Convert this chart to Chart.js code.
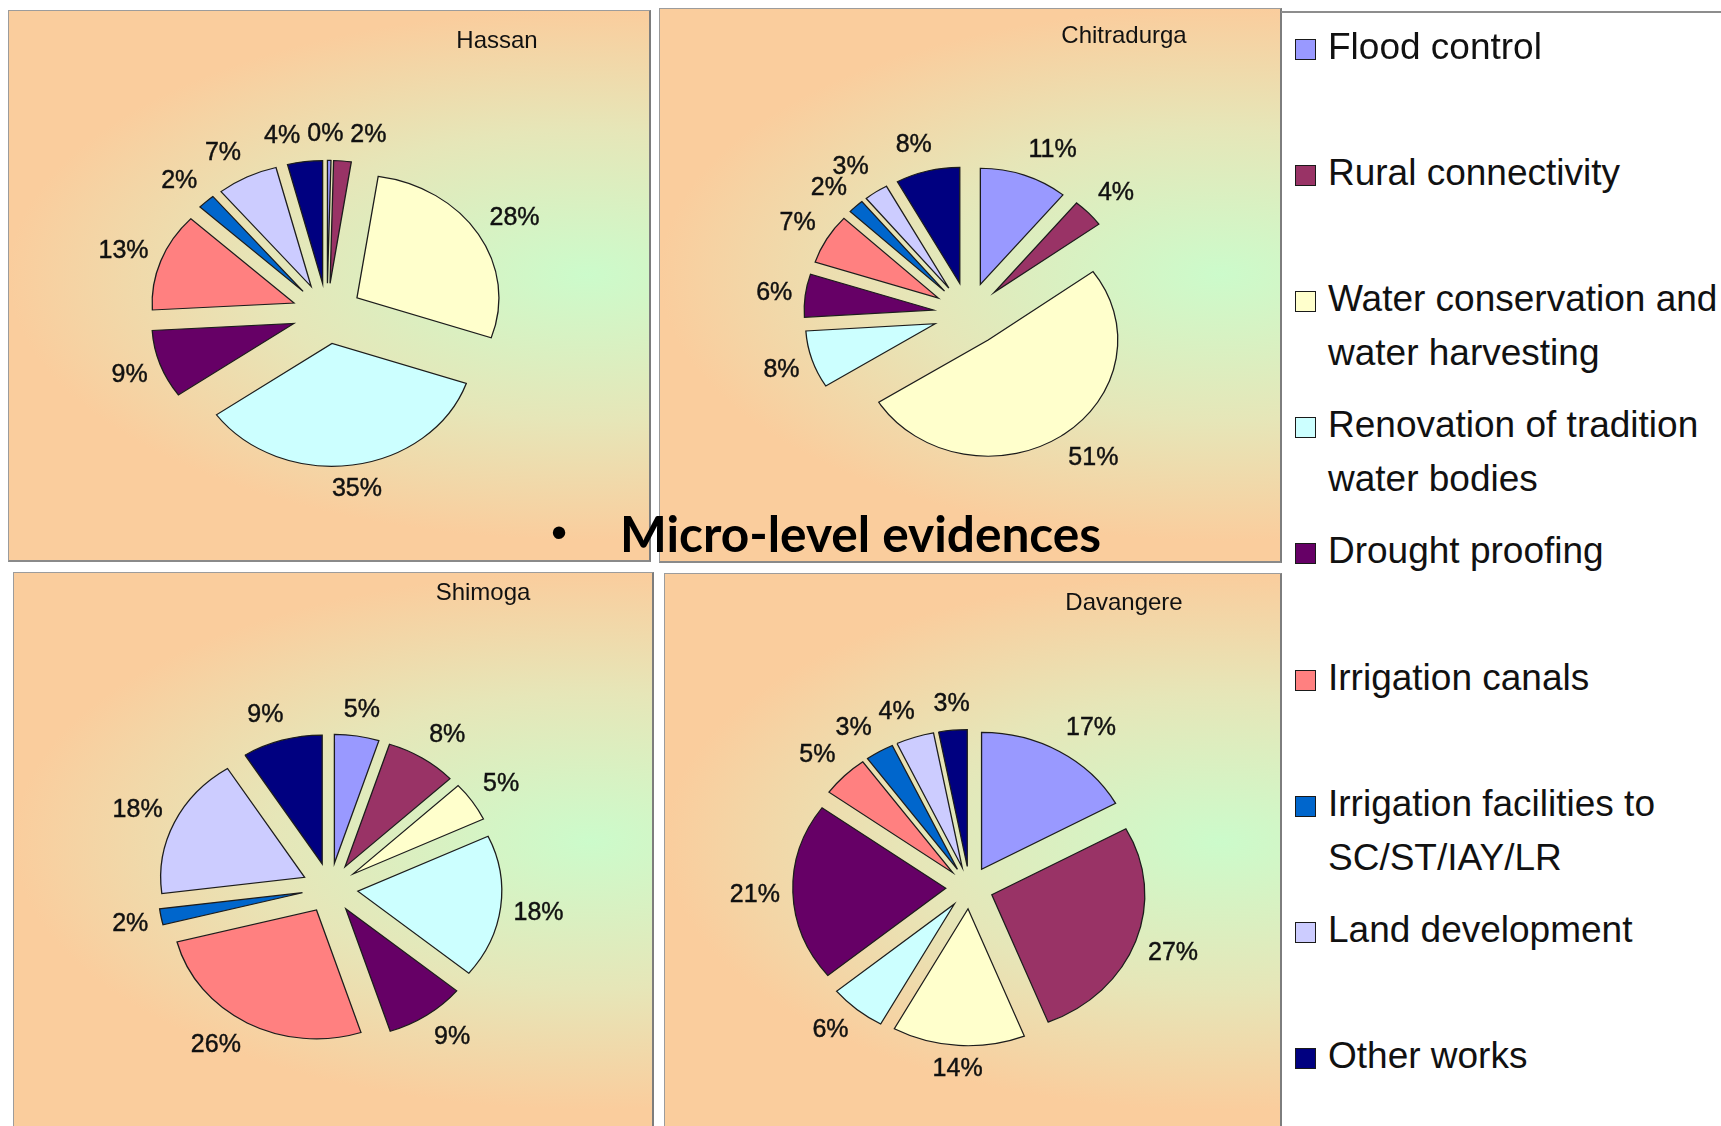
<!DOCTYPE html>
<html>
<head>
<meta charset="utf-8">
<title>Micro-level evidences</title>
<script src="https://cdn.jsdelivr.net/npm/chart.js@4.4.1/dist/chart.umd.min.js"></script>
<style>
  html, body { margin: 0; padding: 0; }
  body {
    width: 1721px; height: 1126px; position: relative; overflow: hidden;
    background: #ffffff; font-family: 'Liberation Sans', Arial, sans-serif;
  }
  canvas.pie {
    position: absolute;
    background: radial-gradient(ellipse 90% 48% at 90% 48%, #ccfbcb 0%, #e6e6b8 55%, #facd9d 100%);
  }
  .frame {
    position: absolute; box-sizing: border-box; pointer-events: none;
    border: 1px solid #9c9c9c; border-right: 2px solid #7d7d7d; border-bottom: 2px solid #8a8a8a;
  }
  .legend-top {
    position: absolute; left: 1281px; top: 11px; width: 440px; height: 0;
    border-top: 2px solid #8d8d8d;
  }
  .legend-item {
    position: absolute; left: 1295px; width: 430px;
    font-size: 37px; line-height: 54px; color: #111;
  }
  .legend-item .swatch {
    position: absolute; left: 0; top: 19px; width: 19px; height: 19px;
    border: 1.5px solid #1a1a1a;
  }
  .legend-item .text { position: absolute; left: 33px; width: 400px; }
  #heading {
    position: absolute; left: 620px; top: 508px; white-space: nowrap;
    font-family: Lato, 'Open Sans', sans-serif; font-weight: 700; font-size: 50px;
    line-height: 50px; color: #000; transform-origin: 0 0;
  }
  #bullet {
    position: absolute; left: 551px; top: 507px; font-family: 'Liberation Sans', Arial, sans-serif;
    font-size: 46px; line-height: 50px; color: #000;
  }
</style>
</head>
<body>
<div id="stage"></div>
<div class="legend-top"></div>
<div id="legend"></div>
<div id="bullet">•</div>
<div id="heading">Micro-level evidences</div>

<script>
// Work categories shared by all four district pies
const categories = [
  'Flood control',
  'Rural connectivity',
  'Water conservation and water harvesting',
  'Renovation of tradition water bodies',
  'Drought proofing',
  'Irrigation canals',
  'Irrigation facilities to SC/ST/IAY/LR',
  'Land development',
  'Other works'
];
const sliceColors = ['#9999FF', '#993366', '#FFFFCC', '#CCFFFF', '#660066', '#FF8080', '#0066CC', '#CCCCFF', '#000080'];

const districts = ['Hassan', 'Chitradurga', 'Shimoga', 'Davangere'];

// Share of works (%) per category, in category order
const hassanShares      = [0.4, 2, 28, 35, 9, 13, 2, 7, 4];
const chitradurgaShares = [11, 4, 51, 8, 6, 7, 2, 3, 8];
const shimogaShares     = [5, 8, 5, 18, 9, 26, 2, 18, 9];
const davangereShares   = [17, 27, 14, 6, 21, 5, 3, 4, 3];

const sharesByDistrict = {
  Hassan: hassanShares,
  Chitradurga: chitradurgaShares,
  Shimoga: shimogaShares,
  Davangere: davangereShares
};

// Page placement of each panel: box [left, top, width, height], pie centre,
// radius, vertical squash, explosion distance and title anchor.
const panelLayout = {
  Hassan:      { box: [8, 10, 643, 552],   center: [327, 313.5],   radius: 142,   squash: 0.865, explode: 35,   title: [497, 41] },
  Chitradurga: { box: [659, 8, 623, 555],  center: [968.5, 314],   radius: 129.6, squash: 0.897, explode: 35,   title: [1124, 36] },
  Shimoga:     { box: [13, 572, 641, 560], center: [330, 888],     radius: 144,   squash: 0.895, explode: 28,   title: [483, 593] },
  Davangere:   { box: [664, 573, 618, 560], center: [969.5, 887.6], radius: 153,  squash: 0.895, explode: 23.7, title: [1124, 603] }
};

const clamp01 = t => Math.max(0, Math.min(1, t));
// how far a label box leans to the side it points at (0 = centred on the ray)
const lean = (t, start, span) => Math.sign(t) * clamp01((Math.abs(t) - start) / span);

// Draws every slice pulled out from the centre along its mid angle, on a
// slightly flattened pie, then writes the percentage labels and the title.
const explodedPie = {
  id: 'explodedPie',
  beforeDatasetDraw(chart, args, opts) {
    const ctx = chart.ctx;
    const arcs = args.meta.data;
    if (!arcs.length) return false;
    const cx = arcs[0].x, cy = arcs[0].y;
    ctx.save();
    ctx.translate(cx, cy);
    ctx.scale(1, opts.squash);
    ctx.translate(-cx, -cy);
    arcs.forEach(arc => {
      const mid = (arc.startAngle + arc.endAngle) / 2;
      ctx.save();
      ctx.translate(Math.cos(mid) * opts.explode, Math.sin(mid) * opts.explode);
      arc.draw(ctx);
      ctx.restore();
    });
    ctx.restore();
    return false;
  },
  afterDatasetsDraw(chart, args, opts) {
    const ctx = chart.ctx;
    const meta = chart.getDatasetMeta(0);
    const values = chart.data.datasets[0].data;
    ctx.save();
    ctx.font = '25px "Liberation Sans", Arial, sans-serif';
    ctx.fillStyle = '#111';
    ctx.strokeStyle = '#111';
    ctx.lineWidth = 0.45;
    ctx.textAlign = 'center';
    ctx.textBaseline = 'middle';
    const gapX = 13, gapY = 16, h = 18;
    const boxes = meta.data.map((arc, i) => {
      const mid = (arc.startAngle + arc.endAngle) / 2;
      const ux = Math.cos(mid), uy = Math.sin(mid);
      const r = arc.outerRadius + opts.explode;
      const tipX = arc.x + r * ux;
      const tipY = arc.y + r * uy * opts.squash;
      const text = Math.round(values[i]) + '%';
      const w = ctx.measureText(text).width;
      return {
        text, w, h,
        x: tipX + gapX * ux + (w / 2) * lean(ux, 0.12, 0.22),
        y: tipY + gapY * uy + (h / 2) * Math.max(-1, Math.min(1, uy / 0.6)) + 3 * (1 - Math.abs(uy)) - 1
      };
    });
    // push overlapping labels apart along the axis where they overlap least
    for (let iter = 0; iter < 80; iter++) {
      let moved = false;
      for (let i = 0; i < boxes.length; i++) {
        for (let j = i + 1; j < boxes.length; j++) {
          const a = boxes[i], b = boxes[j];
          const needX = (a.w + b.w) / 2 + 7, needY = (a.h + b.h) / 2 + 3;
          const ox = needX - Math.abs(a.x - b.x);
          const oy = needY - Math.abs(a.y - b.y);
          if (ox > 0 && oy > 0) {
            if (ox / needX < oy / needY) {
              const s = (a.x < b.x ? -1 : 1) * ox / 2;
              a.x += s; b.x -= s;
            } else {
              const s = (a.y < b.y ? -1 : 1) * oy / 2;
              a.y += s; b.y -= s;
            }
            moved = true;
          }
        }
      }
      if (!moved) break;
    }
    boxes.forEach(b => {
      ctx.fillText(b.text, b.x, b.y);
      ctx.strokeText(b.text, b.x, b.y);
    });
    ctx.restore();
  },
  afterDraw(chart, args, opts) {
    const ctx = chart.ctx;
    ctx.save();
    ctx.font = '24px "Liberation Sans", Arial, sans-serif';
    ctx.fillStyle = '#111';
    ctx.textAlign = 'center';
    ctx.textBaseline = 'middle';
    ctx.fillText(opts.title, opts.titleX, opts.titleY);
    ctx.restore();
  }
};

const stage = document.getElementById('stage');

districts.forEach(name => {
  const lay = panelLayout[name];
  const [left, top, width, height] = lay.box;
  const canvas = document.createElement('canvas');
  canvas.className = 'pie';
  canvas.width = width;
  canvas.height = height;
  canvas.style.left = left + 'px';
  canvas.style.top = top + 'px';
  canvas.style.width = width + 'px';
  canvas.style.height = height + 'px';
  stage.appendChild(canvas);

  const frame = document.createElement('div');
  frame.className = 'frame';
  frame.style.left = left + 'px';
  frame.style.top = top + 'px';
  frame.style.width = width + 'px';
  frame.style.height = height + 'px';
  stage.appendChild(frame);

  // padding that puts the centre of the chart area on the pie centre
  const cx = lay.center[0] - left;
  const cy = lay.center[1] - top;
  const padding = {
    left: Math.max(0, 2 * cx - width),
    right: Math.max(0, width - 2 * cx),
    top: Math.max(0, 2 * cy - height),
    bottom: Math.max(0, height - 2 * cy)
  };

  new Chart(canvas, {
    type: 'pie',
    data: {
      labels: categories,
      datasets: [{
        data: sharesByDistrict[name],
        backgroundColor: sliceColors,
        borderColor: '#1c1c1c',
        borderWidth: 1.3,
        borderJoinStyle: 'miter',
        radius: lay.radius,
        offset: 0,
        hoverOffset: 0
      }]
    },
    options: {
      responsive: false,
      animation: false,
      events: [],
      layout: { padding },
      plugins: {
        legend: { display: false },
        tooltip: { enabled: false },
        title: { display: false },
        explodedPie: {
          squash: lay.squash,
          explode: lay.explode,
          title: name,
          titleX: lay.title[0] - left,
          titleY: lay.title[1] - top
        }
      }
    },
    plugins: [explodedPie]
  });
});

// Shared legend on the right
const legend = document.getElementById('legend');
const legendFirstLine = 47;
const legendStep = 126.1;
categories.forEach((label, i) => {
  const item = document.createElement('div');
  item.className = 'legend-item';
  item.style.top = (legendFirstLine + legendStep * i - 27) + 'px';
  const sw = document.createElement('div');
  sw.className = 'swatch';
  sw.style.background = sliceColors[i];
  const tx = document.createElement('div');
  tx.className = 'text';
  tx.textContent = label;
  item.appendChild(sw);
  item.appendChild(tx);
  legend.appendChild(item);
});

// Heading is set in a condensed width
const heading = document.getElementById('heading');
const targetWidth = 481;
heading.style.transform = 'scaleX(' + (targetWidth / heading.offsetWidth) + ')';
</script>
</body>
</html>
